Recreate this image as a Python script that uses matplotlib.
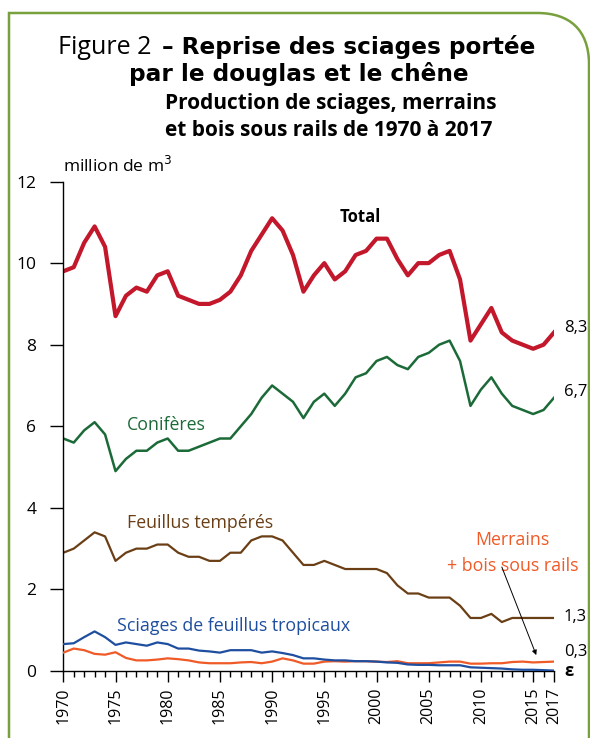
import matplotlib
matplotlib.use('Agg')
import numpy as np
import matplotlib.pyplot as plt
from matplotlib.path import Path
from matplotlib.patches import PathPatch

# Données (million de m3)
years = list(range(1970, 2018))

total = [9.8, 9.9, 10.5, 10.9, 10.4, 8.7, 9.2, 9.4, 9.3, 9.7,
         9.8, 9.2, 9.1, 9.0, 9.0, 9.1, 9.3, 9.7, 10.3, 10.7,
         11.1, 10.8, 10.2, 9.3, 9.7, 10.0, 9.6, 9.8, 10.2, 10.3,
         10.6, 10.6, 10.1, 9.7, 10.0, 10.0, 10.2, 10.3, 9.6, 8.1,
         8.5, 8.9, 8.3, 8.1, 8.0, 7.9, 8.0, 8.3]

coniferes = [5.7, 5.6, 5.9, 6.1, 5.8, 4.9, 5.2, 5.4, 5.4, 5.6,
             5.7, 5.4, 5.4, 5.5, 5.6, 5.7, 5.7, 6.0, 6.3, 6.7,
             7.0, 6.8, 6.6, 6.2, 6.6, 6.8, 6.5, 6.8, 7.2, 7.3,
             7.6, 7.7, 7.5, 7.4, 7.7, 7.8, 8.0, 8.1, 7.6, 6.5,
             6.9, 7.2, 6.8, 6.5, 6.4, 6.3, 6.4, 6.7]

feuillus_temperes = [2.9, 3.0, 3.2, 3.4, 3.3, 2.7, 2.9, 3.0, 3.0, 3.1,
                     3.1, 2.9, 2.8, 2.8, 2.7, 2.7, 2.9, 2.9, 3.2, 3.3,
                     3.3, 3.2, 2.9, 2.6, 2.6, 2.7, 2.6, 2.5, 2.5, 2.5,
                     2.5, 2.4, 2.1, 1.9, 1.9, 1.8, 1.8, 1.8, 1.6, 1.3,
                     1.3, 1.4, 1.2, 1.3, 1.3, 1.3, 1.3, 1.3]

tropicaux = [0.66, 0.68, 0.83, 0.97, 0.83, 0.64, 0.70, 0.66, 0.62, 0.70,
             0.66, 0.55, 0.55, 0.50, 0.48, 0.45, 0.51, 0.51, 0.51, 0.45,
             0.48, 0.44, 0.39, 0.31, 0.31, 0.28, 0.26, 0.26, 0.24, 0.24,
             0.23, 0.21, 0.20, 0.16, 0.15, 0.15, 0.14, 0.14, 0.14, 0.09,
             0.08, 0.07, 0.06, 0.04, 0.03, 0.03, 0.02, 0.01]

merrains = [0.45, 0.55, 0.51, 0.42, 0.40, 0.46, 0.32, 0.26, 0.26, 0.28,
            0.31, 0.29, 0.26, 0.21, 0.19, 0.19, 0.19, 0.21, 0.22, 0.19,
            0.23, 0.31, 0.26, 0.18, 0.18, 0.23, 0.24, 0.23, 0.24, 0.24,
            0.23, 0.22, 0.24, 0.19, 0.19, 0.19, 0.21, 0.23, 0.23, 0.18,
            0.18, 0.19, 0.19, 0.22, 0.23, 0.21, 0.22, 0.23]

end_labels = ['8,3', '6,7', '1,3', '0,3', 'ε']
end_label_y = [8.42, 6.85, 1.33, 0.47, 0.0]

c_total = '#c3172b'
c_conif = '#1b6a38'
c_feuil = '#6b3f16'
c_trop = '#1e4e9f'
c_merr = '#ef5a27'
c_border = '#78a03c'

font = 'Open Sans'
fs = 12.8

fig = plt.figure(figsize=(5.9, 7.38), dpi=100)
ax = fig.add_axes([0.1073, 0.0908, 0.8317, 0.6632])

ax.plot(years, merrains, color=c_merr, lw=1.6, zorder=3)
ax.plot(years, tropicaux, color=c_trop, lw=1.6, zorder=4)
ax.plot(years, feuillus_temperes, color=c_feuil, lw=1.6)
ax.plot(years, coniferes, color=c_conif, lw=1.8)
ax.plot(years, total, color=c_total, lw=3.0)

ax.set_xlim(1970, 2017)
ax.set_ylim(0, 12)
for s in ['top', 'right']:
    ax.spines[s].set_visible(False)
ax.spines['left'].set_linewidth(1.0)
ax.spines['bottom'].set_linewidth(1.0)

ax.set_yticks(range(0, 13, 2))
ax.set_yticklabels([str(v) for v in range(0, 13, 2)], fontsize=12.5, family=font)
ax.tick_params(axis='y', length=9.5, width=1.0, pad=10)

major_years = [1970, 1975, 1980, 1985, 1990, 1995, 2000, 2005, 2010, 2015, 2017]
ax.set_xticks(major_years)
ax.set_xticklabels([str(y) for y in major_years], rotation=90, fontsize=11.5, family=font)
ax.set_xticks(years, minor=True)
ax.tick_params(axis='x', which='major', length=8, width=1.0, pad=4)
ax.tick_params(axis='x', which='minor', length=4, width=1.0)

# étiquettes des séries
ax.text(1998.4, 11.12, 'Total', ha='center', va='center', fontsize=12,
        fontweight='bold', family=font, color='black')
ax.text(1979.85, 6.04, 'Conifères', ha='center', va='center', fontsize=fs,
        family=font, color=c_conif)
ax.text(1983.1, 3.63, 'Feuillus tempérés', ha='center', va='center', fontsize=fs,
        family=font, color=c_feuil)
ax.text(1986.35, 1.10, 'Sciages de feuillus tropicaux', ha='center', va='center',
        fontsize=fs, family=font, color=c_trop)
ax.text(2013.05, 3.21, 'Merrains', ha='center', va='center', fontsize=fs,
        family=font, color=c_merr)
ax.text(2013.05, 2.58, '+ bois sous rails', ha='center', va='center', fontsize=fs,
        family=font, color=c_merr)
ax.annotate('', xy=(2015.3, 0.39), xytext=(2012.0, 2.55),
            arrowprops=dict(arrowstyle='-|>', color='black', lw=0.7,
                            mutation_scale=7, shrinkA=0, shrinkB=0))

for lab, yv in zip(end_labels, end_label_y):
    ax.text(2017.95, yv, lab, ha='left', va='center', fontsize=12,
            family=font, color='black', clip_on=False,
            fontweight='bold' if lab == 'ε' else 'normal')

ax.text(0.0, 1.012, 'million de m$^3$', transform=ax.transAxes, ha='left',
        va='bottom', fontsize=12.5, family=font)

# titres
fig.text(58 / 590, 1 - 47 / 738, 'Figure 2', ha='left', va='center',
         fontsize=18, family=font)
fig.text(535 / 590, 1 - 47 / 738, '– Reprise des sciages portée', ha='right',
         va='center', fontsize=16.7, family='DejaVu Sans', fontweight='bold')
fig.text(299 / 590, 1 - 74 / 738, 'par le douglas et le chêne', ha='center',
         va='center', fontsize=16.7, family='DejaVu Sans', fontweight='bold')
fig.text(331 / 590, 1 - 104 / 738, 'Production de sciages, merrains', ha='center',
         va='center', fontsize=15, family=font, fontweight='bold')
fig.text(329 / 590, 1 - 130 / 738, 'et bois sous rails de 1970 à 2017', ha='center',
         va='center', fontsize=15, family=font, fontweight='bold')

# cadre vert avec coin arrondi
W, H = 590.0, 738.0
pts = [(9, 740), (9, 13), (537, 13), (570, 13), (588, 30), (589, 62), (589, 740)]
codes = [Path.MOVETO, Path.LINETO, Path.LINETO, Path.CURVE4, Path.CURVE4,
         Path.CURVE4, Path.LINETO]
verts = [(x / W, 1 - y / H) for x, y in pts]
fig.patches.append(PathPatch(Path(verts, codes), transform=fig.transFigure,
                             fill=False, edgecolor=c_border, lw=1.8))

fig.savefig('out.png', dpi=100)
